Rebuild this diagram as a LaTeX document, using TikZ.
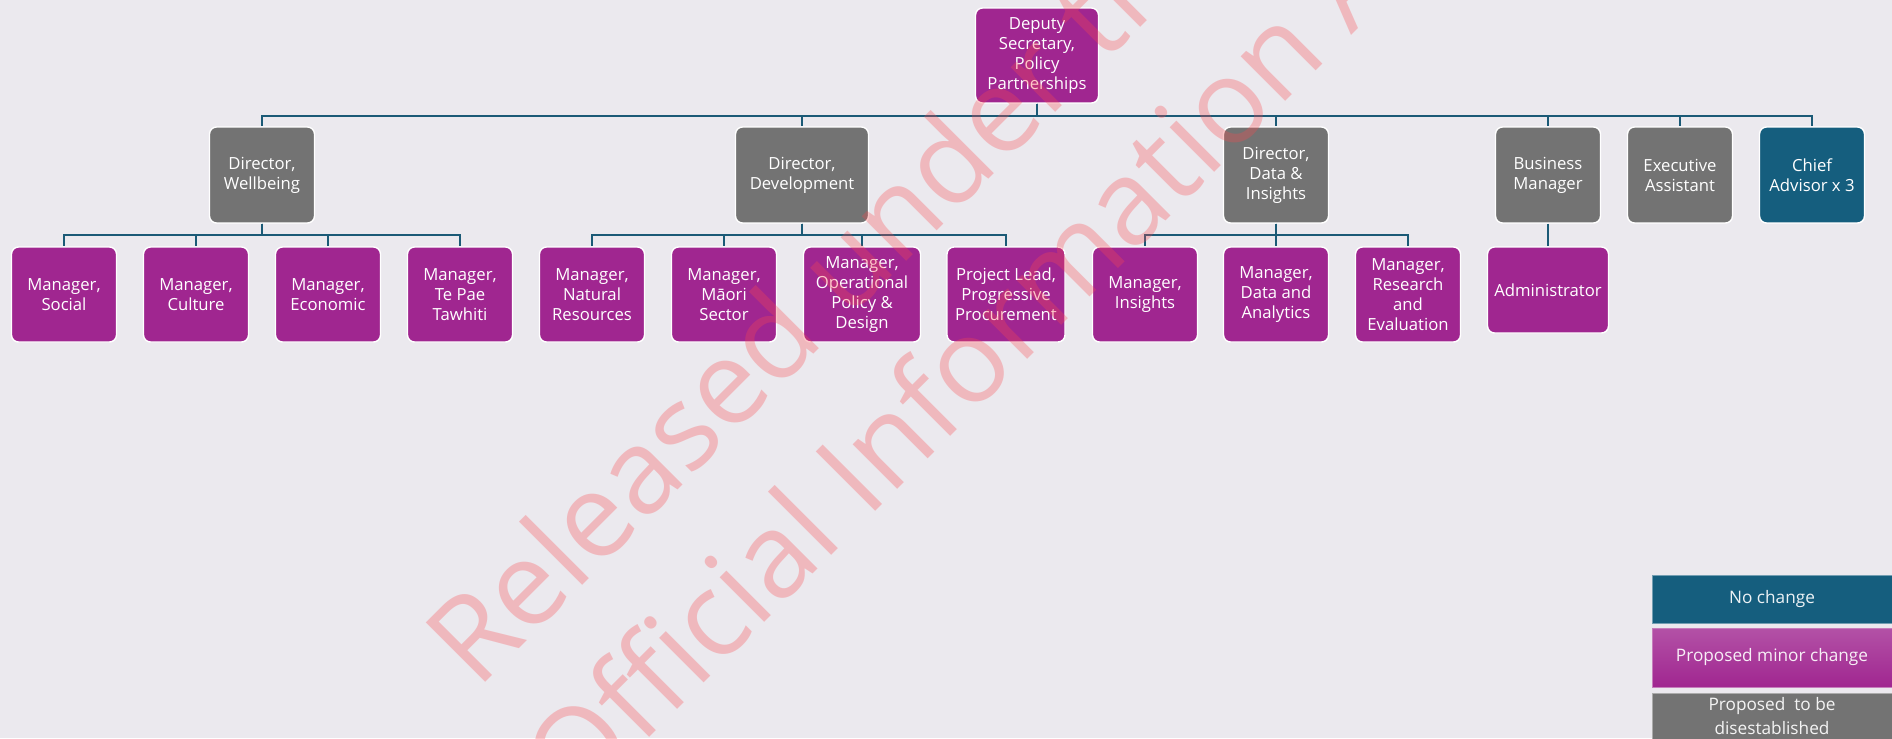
\documentclass[tikz,border=0pt]{standalone}
\usepackage{fontspec}
\setmainfont{Open Sans}

\definecolor{bgcol}{RGB}{235,233,238}
\definecolor{purp}{RGB}{160,38,144}
\definecolor{greybox}{RGB}{115,115,115}
\definecolor{tealbox}{RGB}{21,94,126}
\definecolor{linecol}{RGB}{27,90,118}
\definecolor{wmred}{RGB}{251,73,78}

\begin{document}
\begin{tikzpicture}[x=0.02cm,y=-0.02cm,
  box/.style={draw=white,line width=0.8pt,rounded corners=4pt,text=white,align=center,
    inner sep=1pt,minimum width=2.1cm,minimum height=1.9cm,font=\fontsize{9.5}{11.4}\selectfont},
  legbox/.style={draw=white!40!#1,line width=0.5pt,fill=#1,text=white!92!#1,align=center,
    minimum width=4.8cm,font=\fontsize{9.8}{13.5}\selectfont},
  conn/.style={draw=linecol,line width=1.3pt},
  wm/.style={text=wmred,text opacity=0.3,anchor=base west,rotate=45,inner sep=0pt,
    font=\fontsize{67}{80}\selectfont}]
\fill[bgcol] (0,0) rectangle (1892,738);
\useasboundingbox (0,0) rectangle (1892,738);
\clip (0,0) rectangle (1892,738);

\node[box,fill=purp,minimum width=2.46cm] (deputy) at (1037,55.5) {Deputy\\Secretary,\\Policy\\Partnerships};

% second row
\node[box,fill=greybox,minimum height=1.92cm] (dirWell) at (262,175) {Director,\\Wellbeing};
\node[box,fill=greybox,minimum height=1.92cm,minimum width=2.66cm] (dirDev) at (802,175) {Director,\\Development};
\node[box,fill=greybox,minimum height=1.92cm] (dirData) at (1276,175) {Director,\\Data \&\\Insights};
\node[box,fill=greybox,minimum height=1.92cm] (busMgr) at (1548,175) {Business\\Manager};
\node[box,fill=greybox,minimum height=1.92cm] (execAsst) at (1680,175) {Executive\\Assistant};
\node[box,fill=tealbox,minimum height=1.92cm] (chief) at (1812,175) {Chief\\Advisor x 3};

% third row
\foreach \nm/\x/\txt in {mgrSocial/64/{Manager,\\Social},mgrCulture/196/{Manager,\\Culture},
    mgrEcon/328/{Manager,\\Economic},mgrTePae/460/{Manager,\\Te Pae\\Tawhiti},
    mgrNatural/592/{Manager,\\Natural\\Resources},mgrMaori/724/{Manager,\\Māori\\Sector},
    mgrInsights/1145/{Manager,\\Insights},mgrData/1276/{Manager,\\Data and\\Analytics},
    mgrResearch/1408/{Manager,\\Research\\and\\Evaluation}}
  \node[box,fill=purp] (\nm) at (\x,294.5) {\txt};
\node[box,fill=purp,minimum width=2.34cm] (mgrOper) at (862,294.5) {Manager,\\Operational\\Policy \&\\Design};
\node[box,fill=purp,minimum width=2.36cm] (projLead) at (1006,294.5) {Project Lead,\\Progressive\\Procurement};
\node[box,fill=purp,minimum width=2.42cm,minimum height=1.72cm] (admin) at (1548,290) {Administrator};

\foreach \n in {dirWell,dirDev,dirData,busMgr,execAsst,chief}
  \draw[conn] (deputy.south) -- ++(0,12) -| (\n.north);
\foreach \n in {mgrSocial,mgrCulture,mgrEcon,mgrTePae}
  \draw[conn] (dirWell.south) -- ++(0,11) -| (\n.north);
\foreach \n in {mgrNatural,mgrMaori,mgrOper,projLead}
  \draw[conn] (dirDev.south) -- ++(0,11) -| (\n.north);
\foreach \n in {mgrInsights,mgrData,mgrResearch}
  \draw[conn] (dirData.south) -- ++(0,11) -| (\n.north);
\draw[conn] (busMgr.south) -- (admin.north);

% legend
\node[legbox=tealbox,minimum height=0.96cm] (legNo) at (1772,599) {No change};
\node[legbox=purp,minimum height=1.18cm,top color=purp!80!white,bottom color=purp,
  text=white!92!purp] (legMinor) at (1772,657.5) {Proposed minor change};
\node[legbox=greybox,minimum height=0.92cm,inner sep=0pt] (legGone) at (1772,716) {Proposed\ \ to be\\disestablished};

\node[wm] (wmLineA) at (477,691) {Released under the};
\node[wm] (wmLineB) at (575,812) {Official Information Act};
\end{tikzpicture}
\end{document}
